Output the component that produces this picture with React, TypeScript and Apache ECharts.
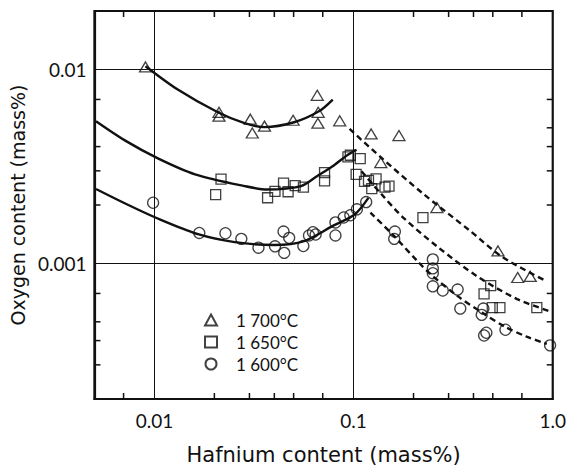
import React, { useEffect, useRef } from "react";
import * as echarts from "echarts";

// ---- data (Hf mass%, O mass%) ----
const tri1700: [number, number][] = [
  [0.00902, 0.0103], [0.0211, 0.00601], [0.0211, 0.00574], [0.0303, 0.00554],
  [0.031, 0.0047], [0.0357, 0.0051], [0.0497, 0.00547], [0.0657, 0.00735],
  [0.0664, 0.00601], [0.0662, 0.00528], [0.0852, 0.00543], [0.1225, 0.00465],
  [0.169, 0.00456], [0.137, 0.00331], [0.262, 0.00194], [0.531, 0.00116],
  [0.667, 0.000846], [0.771, 0.000857],
];
const sq1650: [number, number][] = [
  [0.0203, 0.00226], [0.0216, 0.00272], [0.037, 0.00218], [0.0403, 0.00235],
  [0.0445, 0.00259], [0.0469, 0.00234], [0.0509, 0.00252], [0.056, 0.00247],
  [0.0715, 0.00294], [0.0715, 0.00266], [0.0937, 0.00354], [0.0963, 0.00361],
  [0.108, 0.00347], [0.103, 0.00288], [0.1135, 0.00265], [0.1188, 0.00268],
  [0.1297, 0.00273], [0.1234, 0.00243], [0.1438, 0.00247], [0.1506, 0.0025],
  [0.223, 0.00172], [0.488, 0.000768], [0.452, 0.000697], [0.497, 0.000592],
  [0.543, 0.000592], [0.832, 0.000592],
];
const circ1600: [number, number][] = [
  [0.00985, 0.002054], [0.0168, 0.001435], [0.02273, 0.00143], [0.02731, 0.001338],
  [0.0333, 0.001205], [0.04032, 0.001225], [0.04484, 0.001133], [0.04449, 0.001459],
  [0.04749, 0.001354], [0.05596, 0.001229], [0.05972, 0.001393], [0.06252, 0.001448],
  [0.06449, 0.001409], [0.0811, 0.001393], [0.0811, 0.001626], [0.08918, 0.001724],
  [0.0963, 0.001771], [0.1039, 0.0019], [0.1157, 0.002071], [0.1612, 0.001459],
  [0.16, 0.001338], [0.25, 0.001048], [0.25, 0.000943], [0.25, 0.00089],
  [0.25, 0.000762], [0.2804, 0.000725], [0.333, 0.000733], [0.3434, 0.000585],
  [0.4485, 0.000585], [0.4399, 0.000543], [0.4522, 0.000425], [0.4642, 0.000439],
  [0.579, 0.000455], [0.9697, 0.000378],
];

// fitted curves
const fit1700Solid: [number, number][] = [
  [0.00902, 0.01039], [0.01316, 0.00785], [0.02082, 0.00601], [0.02836, 0.00528],
  [0.03567, 0.00504], [0.05029, 0.00534], [0.06698, 0.00608], [0.07862, 0.00699],
];
const fit1700Dash: [number, number][] = [
  [0.0955, 0.00493], [0.1363, 0.00354], [0.223, 0.00229], [0.382, 0.00148],
  [0.5575, 0.00108], [0.9335, 0.000808],
];
const fit1650Solid: [number, number][] = [
  [0.005088, 0.005408], [0.007173, 0.004282], [0.01047, 0.003471], [0.016, 0.00288],
  [0.02836, 0.002504], [0.03693, 0.002404], [0.05448, 0.002504], [0.06546, 0.002814],
  [0.07953, 0.003199], [0.09231, 0.003594], [0.1035, 0.003856],
];
const fit1650Dash: [number, number][] = [
  [0.1096, 0.002984], [0.1363, 0.002307], [0.1774, 0.001724], [0.2648, 0.001215],
  [0.4187, 0.000856], [0.6622, 0.000655], [0.955, 0.000569],
];
const fit1600Solid: [number, number][] = [
  [0.005088, 0.002418], [0.007173, 0.00203], [0.010115, 0.001724], [0.01655, 0.001414],
  [0.02529, 0.001288], [0.04, 0.001244], [0.05638, 0.001303], [0.07953, 0.00157],
  [0.1012, 0.001786], [0.1187, 0.002177],
];
const fit1600Dash: [number, number][] = [
  [0.1215, 0.001828], [0.1581, 0.001398], [0.2106, 0.00102], [0.2443, 0.000877],
  [0.333, 0.000678], [0.4435, 0.000556], [0.577, 0.000471], [0.74, 0.000419],
  [0.9335, 0.000385],
];

const legendNames = ["1 700°C", "1 650°C", "1 600°C"];
const xLabelValues = [0.01, 0.1, 1];
const xLabelTexts = ["0.01", "0.1", "1.0"];
const yLabelValues = [0.01, 0.001];
const yLabelTexts = ["0.01", "0.001"];
const xMinorTicks = [0.007, 0.02, 0.03, 0.04, 0.05, 0.07, 0.2, 0.3, 0.4, 0.5, 0.7];
const yMinorTicksLeft = [0.0003, 0.0004, 0.0005, 0.0007, 0.002, 0.003, 0.004, 0.007];
const yMinorTicksRight = [0.0003, 0.0005, 0.0007, 0.002, 0.003, 0.004, 0.005, 0.007];

const FONT = 'Lato, "Noto Sans", sans-serif';
const TITLE_FONT = '"DejaVu Sans", Lato, sans-serif';
const INK = "#111";

function pickLabel(values: number[], texts: string[]) {
  return (v: number) => {
    for (let i = 0; i < values.length; i++) {
      if (Math.abs(Math.log10(v) - Math.log10(values[i])) < 1e-6) return texts[i];
    }
    return "";
  };
}

export default function App() {
  const ref = useRef<HTMLDivElement>(null);

  useEffect(() => {
    document.body.style.margin = "0";
    if (!ref.current) return;
    const chart = echarts.init(ref.current, undefined, { renderer: "svg" });

    const markerStyle = { color: "rgba(255,255,255,0)", borderColor: INK, borderWidth: 1.3 };
    const solid = { color: INK, width: 2.4, type: "solid" as const };
    const dashed = { color: INK, width: 2.4, type: [6, 4] as any };

    const lineSeries = (data: [number, number][], style: any) => ({
      type: "line",
      data,
      smooth: 0.3,
      showSymbol: false,
      symbol: "none",
      lineStyle: style,
      silent: true,
      z: 2,
    });

    const tickStyle = { stroke: INK, lineWidth: 1.5 };
    const TL = 6;

    chart.setOption({
      animation: false,
      backgroundColor: "#fff",
      grid: {
        left: 90,
        right: 15,
        top: 11,
        bottom: 65,
        show: true,
        borderColor: INK,
        borderWidth: 2.2,
        backgroundColor: "transparent",
      },
      legend: {
        data: legendNames,
        orient: "vertical",
        left: 204,
        top: 311,
        itemWidth: 12,
        itemHeight: 11,
        itemGap: 4,
        textStyle: { fontFamily: FONT, fontSize: 17, color: INK, lineHeight: 18, padding: [0, 0, 0, 14] },
        padding: 0,
        selectedMode: false,
      },
      xAxis: {
        type: "log",
        logBase: 10,
        min: 0.005,
        max: 1,
        name: "Hafnium content (mass%)",
        nameLocation: "middle",
        nameGap: 45,
        nameTextStyle: { fontFamily: TITLE_FONT, fontSize: 21, color: INK },
        axisLine: { show: true, lineStyle: { color: INK, width: 2.2 } },
        axisTick: { show: false },
        axisLabel: {
          formatter: pickLabel(xLabelValues, xLabelTexts),
          fontFamily: FONT,
          fontSize: 19,
          color: INK,
          margin: 12,
          showMinLabel: true,
          showMaxLabel: true,
          hideOverlap: false,
        },
        splitLine: { show: true, lineStyle: { color: INK, width: 1 } },
      },
      yAxis: {
        type: "log",
        logBase: 10,
        min: 0.0002,
        max: 0.02,
        name: "Oxygen content (mass%)",
        nameLocation: "middle",
        nameGap: 62,
        nameTextStyle: { fontFamily: TITLE_FONT, fontSize: 19, color: INK },
        axisLine: { show: true, lineStyle: { color: INK, width: 2.2 } },
        axisTick: { show: false },
        axisLabel: {
          formatter: pickLabel(yLabelValues, yLabelTexts),
          fontFamily: FONT,
          fontSize: 19,
          color: INK,
          margin: 8,
          showMinLabel: true,
          showMaxLabel: true,
          hideOverlap: false,
        },
        splitLine: { show: true, lineStyle: { color: INK, width: 1 } },
      },
      series: [
        lineSeries(fit1700Solid, solid),
        lineSeries(fit1700Dash, dashed),
        lineSeries(fit1650Solid, solid),
        lineSeries(fit1650Dash, dashed),
        lineSeries(fit1600Solid, solid),
        lineSeries(fit1600Dash, dashed),
        {
          type: "custom",
          silent: true,
          clip: false,
          data: xMinorTicks.map((v) => [v, 0.001]),
          encode: { x: 0, y: 1 },
          renderItem: (params: any, api: any) => {
            const p = api.coord([api.value(0), api.value(1)]);
            const cs = params.coordSys;
            return {
              type: "group",
              children: [
                { type: "line", shape: { x1: p[0], y1: cs.y, x2: p[0], y2: cs.y + TL }, style: tickStyle },
                {
                  type: "line",
                  shape: { x1: p[0], y1: cs.y + cs.height, x2: p[0], y2: cs.y + cs.height - TL },
                  style: tickStyle,
                },
              ],
            };
          },
          z: 3,
        },
        {
          type: "custom",
          silent: true,
          clip: false,
          data: [
            ...yMinorTicksLeft.map((v) => [0.01, v, 0]),
            ...yMinorTicksRight.map((v) => [0.01, v, 1]),
          ],
          encode: { x: 0, y: 1 },
          renderItem: (params: any, api: any) => {
            const p = api.coord([api.value(0), api.value(1)]);
            const cs = params.coordSys;
            const right = api.value(2) === 1;
            const x0 = right ? cs.x + cs.width : cs.x;
            const x1 = right ? x0 - TL : x0 + TL;
            return { type: "line", shape: { x1: x0, y1: p[1], x2: x1, y2: p[1] }, style: tickStyle };
          },
          z: 3,
        },
        {
          name: legendNames[0],
          type: "scatter",
          data: tri1700,
          symbol: "triangle",
          symbolSize: [12, 10],
          itemStyle: markerStyle,
          z: 4,
        },
        {
          name: legendNames[1],
          type: "scatter",
          data: sq1650,
          symbol: "rect",
          symbolSize: 10,
          itemStyle: markerStyle,
          z: 4,
        },
        {
          name: legendNames[2],
          type: "scatter",
          data: circ1600,
          symbol: "circle",
          symbolSize: 11,
          itemStyle: markerStyle,
          z: 4,
        },
      ],
    });

    return () => chart.dispose();
  }, []);

  return <div ref={ref} style={{ width: 569, height: 470 }} />;
}
